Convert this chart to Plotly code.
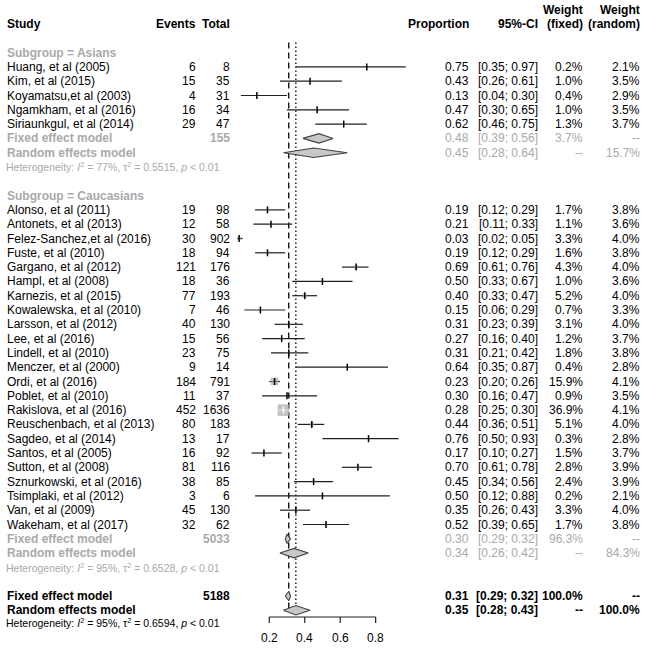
import math
import plotly.graph_objects as go

# ---------------- data ----------------
asian_study = ["Huang, et al (2005)", "Kim, et al (2015)", "Koyamatsu,et al (2003)",
               "Ngamkham, et al (2016)", "Siriaunkgul, et al (2014)"]
asian_events = [6, 15, 4, 16, 29]
asian_total = [8, 35, 31, 34, 47]
asian_prop = [0.75, 0.43, 0.13, 0.47, 0.62]
asian_lo = [0.35, 0.26, 0.04, 0.30, 0.46]
asian_hi = [0.97, 0.61, 0.30, 0.65, 0.75]
asian_wf = [0.2, 1.0, 0.4, 1.0, 1.3]
asian_wr = [2.1, 3.5, 2.9, 3.5, 3.7]

cauc_study = ["Alonso, et al (2011)", "Antonets, et al (2013)", "Felez-Sanchez,et al (2016)",
              "Fuste, et al (2010)", "Gargano, et al (2012)", "Hampl, et al (2008)",
              "Karnezis, et al (2015)", "Kowalewska, et al (2010)", "Larsson, et al (2012)",
              "Lee, et al (2016)", "Lindell, et al (2010)", "Menczer, et al (2000)",
              "Ordi, et al (2016)", "Poblet, et al (2010)", "Rakislova, et al (2016)",
              "Reuschenbach, et al (2013)", "Sagdeo, et al (2014)", "Santos, et al (2005)",
              "Sutton, et al (2008)", "Sznurkowski, et al (2016)", "Tsimplaki, et al (2012)",
              "Van, et al (2009)", "Wakeham, et al (2017)"]
cauc_events = [19, 12, 30, 18, 121, 18, 77, 7, 40, 15, 23, 9, 184, 11, 452, 80, 13, 16, 81, 38, 3, 45, 32]
cauc_total = [98, 58, 902, 94, 176, 36, 193, 46, 130, 56, 75, 14, 791, 37, 1636, 183, 17, 92, 116, 85, 6, 130, 62]
cauc_prop = [0.19, 0.21, 0.03, 0.19, 0.69, 0.50, 0.40, 0.15, 0.31, 0.27, 0.31, 0.64, 0.23, 0.30, 0.28,
             0.44, 0.76, 0.17, 0.70, 0.45, 0.50, 0.35, 0.52]
cauc_lo = [0.12, 0.11, 0.02, 0.12, 0.61, 0.33, 0.33, 0.06, 0.23, 0.16, 0.21, 0.35, 0.20, 0.16, 0.25,
           0.36, 0.50, 0.10, 0.61, 0.34, 0.12, 0.26, 0.39]
cauc_hi = [0.29, 0.33, 0.05, 0.29, 0.76, 0.67, 0.47, 0.29, 0.39, 0.40, 0.42, 0.87, 0.26, 0.47, 0.30,
           0.51, 0.93, 0.27, 0.78, 0.56, 0.88, 0.43, 0.65]
cauc_wf = [1.7, 1.1, 3.3, 1.6, 4.3, 1.0, 5.2, 0.7, 3.1, 1.2, 1.8, 0.4, 15.9, 0.9, 36.9, 5.1, 0.3, 1.5,
           2.8, 2.4, 0.2, 3.3, 1.7]
cauc_wr = [3.8, 3.6, 4.0, 3.8, 4.0, 3.6, 4.0, 3.3, 4.0, 3.7, 3.8, 2.8, 4.1, 3.5, 4.1, 4.0, 2.8, 3.7,
           3.9, 3.9, 2.1, 4.0, 3.8]

subgroup_names = ["Asians", "Caucasians"]
sub_total = [155, 5033]
sub_fixed = [0.48, 0.30]
sub_fixed_lo = [0.39, 0.29]
sub_fixed_hi = [0.56, 0.32]
sub_fixed_w = [3.7, 96.3]
sub_random = [0.45, 0.34]
sub_random_lo = [0.28, 0.26]
sub_random_hi = [0.64, 0.42]
sub_random_w = [15.7, 84.3]
sub_i2 = [77, 95]
sub_tau2 = [0.5515, 0.6528]

overall_total = 5188
overall_fixed = [0.31, 0.29, 0.32]
overall_random = [0.35, 0.28, 0.43]
overall_i2 = 95
overall_tau2 = 0.6594

axis_ticks = [0.2, 0.4, 0.6, 0.8]

# ---------------- geometry ----------------
W, H = 646, 649
ROW_PX = 14.3
ROW0_PX = 24.0
rmin = -ROW0_PX / ROW_PX
rmax = rmin + H / ROW_PX
X0_PX = 233.8
X_SCALE = 177.3
xmin = -X0_PX / X_SCALE
xmax = (W - X0_PX) / X_SCALE

FONT = "Liberation Sans, Arial, sans-serif"
GRAY = "#a9a9a9"
BLACK = "#000000"

COL_STUDY = 5
COL_EVENTS = 197.5
COL_TOTAL = 231.5
COL_PROP = 471
COL_CI = 539.5
COL_WF = 584.5
COL_WR = 641.5

annotations = []


def txt(x, y, s, anchor="right", color=BLACK, bold=False, size=12):
    if bold:
        s = "<b>" + s + "</b>"
    annotations.append(dict(x=x, y=y, xref="x2", yref="y", text=s, showarrow=False,
                            xanchor=anchor, yanchor="middle",
                            font=dict(family=FONT, size=size, color=color)))


def ci_str(lo, hi):
    return "[%.2f; %.2f]" % (lo, hi)


# header
txt(COL_STUDY, 0, "Study", "left", bold=True)
txt(COL_EVENTS, 0, "Events", bold=True)
txt(COL_TOTAL, 0, "Total", bold=True)
txt(COL_PROP, 0, "Proportion", bold=True)
txt(COL_CI, 0, "95%-CI", bold=True)
txt(COL_WF, -0.98, "Weight", bold=True)
txt(COL_WF, 0, "(fixed)", bold=True)
txt(COL_WR, -0.98, "Weight", bold=True)
txt(COL_WR, 0, "(random)", bold=True)

# forest marks collections
ci_x, ci_y = [], []
sq_x, sq_y, sq_s = [], [], []
tick_x, tick_y, tick_c = [], [], []
inside_x, inside_y = [], []
diamonds = []  # (est, lo, hi, row)


def het_text(i2, tau2):
    return ("Heterogeneity: <i>I</i><sup>2</sup> = %d%%, τ<sup>2</sup> = %.4f, <i>p</i> &lt; 0.01"
            % (i2, tau2))


groups = [
    (asian_study, asian_events, asian_total, asian_prop, asian_lo, asian_hi, asian_wf, asian_wr),
    (cauc_study, cauc_events, cauc_total, cauc_prop, cauc_lo, cauc_hi, cauc_wf, cauc_wr),
]

row = 2
for g, (st, ev, tot, pr, lo, hi, wf, wr) in enumerate(groups):
    txt(COL_STUDY, row, "Subgroup = " + subgroup_names[g], "left", color=GRAY, bold=True)
    row += 1
    for i in range(len(st)):
        txt(COL_STUDY, row, st[i], "left")
        txt(COL_EVENTS, row, str(ev[i]))
        txt(COL_TOTAL, row, str(tot[i]))
        txt(COL_PROP, row, "%.2f" % pr[i])
        txt(COL_CI, row, ci_str(lo[i], hi[i]))
        txt(COL_WF, row, "%.1f%%" % wf[i])
        txt(COL_WR, row, "%.1f%%" % wr[i])
        size_px = 1.9 * math.sqrt(wf[i])
        half = size_px / 2 / X_SCALE
        inside = (pr[i] - lo[i] <= half) and (hi[i] - pr[i] <= half)
        ci_x += [lo[i], hi[i], None]
        ci_y += [row, row, None]
        sq_x.append(pr[i]); sq_y.append(row); sq_s.append(size_px)
        tick_x.append(pr[i]); tick_y.append(row)
        tick_c.append("white" if inside else BLACK)
        if inside:
            inside_x += [lo[i], hi[i], None]
            inside_y += [row, row, None]
        row += 1
    # subgroup fixed
    txt(COL_STUDY, row, "Fixed effect model", "left", color=GRAY, bold=True)
    txt(COL_TOTAL, row, str(sub_total[g]), color=GRAY, bold=True)
    txt(COL_PROP, row, "%.2f" % sub_fixed[g], color=GRAY)
    txt(COL_CI, row, ci_str(sub_fixed_lo[g], sub_fixed_hi[g]), color=GRAY)
    txt(COL_WF, row, "%.1f%%" % sub_fixed_w[g], color=GRAY)
    txt(COL_WR, row, "--", color=GRAY)
    diamonds.append((sub_fixed[g], sub_fixed_lo[g], sub_fixed_hi[g], row))
    row += 1
    txt(COL_STUDY, row, "Random effects model", "left", color=GRAY, bold=True)
    txt(COL_PROP, row, "%.2f" % sub_random[g], color=GRAY)
    txt(COL_CI, row, ci_str(sub_random_lo[g], sub_random_hi[g]), color=GRAY)
    txt(COL_WF, row, "--", color=GRAY)
    txt(COL_WR, row, "%.1f%%" % sub_random_w[g], color=GRAY)
    diamonds.append((sub_random[g], sub_random_lo[g], sub_random_hi[g], row))
    row += 1
    txt(COL_STUDY - 1, row - 0.02, het_text(sub_i2[g], sub_tau2[g]), "left", color=GRAY, size=10.5)
    row += 2

# overall
txt(COL_STUDY, row, "Fixed effect model", "left", bold=True)
txt(COL_TOTAL, row, str(overall_total), bold=True)
txt(COL_PROP, row, "%.2f" % overall_fixed[0], bold=True)
txt(COL_CI, row, ci_str(overall_fixed[1], overall_fixed[2]), bold=True)
txt(COL_WF, row, "100.0%", bold=True)
txt(COL_WR, row, "--", bold=True)
diamonds.append((overall_fixed[0], overall_fixed[1], overall_fixed[2], row))
row_fixed_overall = row
row += 1
txt(COL_STUDY, row, "Random effects model", "left", bold=True)
txt(COL_PROP, row, "%.2f" % overall_random[0], bold=True)
txt(COL_CI, row, ci_str(overall_random[1], overall_random[2]), bold=True)
txt(COL_WF, row, "--", bold=True)
txt(COL_WR, row, "100.0%", bold=True)
diamonds.append((overall_random[0], overall_random[1], overall_random[2], row))
row_random_overall = row
txt(COL_STUDY - 1, row + 0.85, het_text(overall_i2, overall_tau2), "left", size=10.5)

# ---------------- figure ----------------
fig = go.Figure()

# reference lines
line_top, line_bot = 1.3, row_random_overall + 0.15
fig.add_trace(go.Scatter(x=[overall_fixed[0]] * 2, y=[line_top, line_bot], mode="lines",
                         line=dict(color=BLACK, width=1.3, dash="6px,4px"), hoverinfo="skip"))
fig.add_trace(go.Scatter(x=[overall_random[0]] * 2, y=[line_top, line_bot], mode="lines",
                         line=dict(color=BLACK, width=1.3, dash="1.5px,2.5px"), hoverinfo="skip"))

# CI lines
fig.add_trace(go.Scatter(x=ci_x, y=ci_y, mode="lines", line=dict(color="#202020", width=1.2),
                         hoverinfo="skip"))
# squares
fig.add_trace(go.Scatter(x=sq_x, y=sq_y, mode="markers",
                         marker=dict(symbol="square", size=sq_s, color="#a8a8a8", line=dict(width=0)),
                         hoverinfo="skip"))
# white inside lines
if inside_x:
    fig.add_trace(go.Scatter(x=inside_x, y=inside_y, mode="lines", line=dict(color="white", width=1.2),
                             hoverinfo="skip"))
# centre ticks
fig.add_trace(go.Scatter(x=tick_x, y=tick_y, mode="markers",
                         marker=dict(symbol="line-ns", size=5, color=tick_c,
                                     line=dict(width=1.5, color=tick_c)),
                         hoverinfo="skip"))

# diamonds
DH = 0.33
for est, lo, hi, r in diamonds:
    fig.add_trace(go.Scatter(x=[lo, est, hi, est, lo], y=[r, r - DH, r, r + DH, r], mode="lines",
                             fill="toself", fillcolor="#c8c8c8",
                             line=dict(color="#404040", width=1.1), hoverinfo="skip"))

# axis
axis_row = 41.47
tick_len = 0.42
fig.add_trace(go.Scatter(x=[axis_ticks[0], axis_ticks[-1]], y=[axis_row, axis_row], mode="lines",
                         line=dict(color="#202020", width=1.2), hoverinfo="skip"))
tx, ty = [], []
for t in axis_ticks:
    tx += [t, t, None]
    ty += [axis_row, axis_row + tick_len, None]
    annotations.append(dict(x=t, y=axis_row + 1.48, xref="x", yref="y", text="%.1f" % t,
                            showarrow=False, xanchor="center", yanchor="middle",
                            font=dict(family=FONT, size=12, color=BLACK)))
fig.add_trace(go.Scatter(x=tx, y=ty, mode="lines", line=dict(color="#202020", width=1.2),
                         hoverinfo="skip"))

fig.update_layout(
    width=W, height=H, autosize=False,
    margin=dict(l=0, r=0, t=0, b=0, pad=0),
    paper_bgcolor="white", plot_bgcolor="white",
    showlegend=False,
    xaxis=dict(range=[xmin, xmax], visible=False, fixedrange=True),
    xaxis2=dict(range=[0, W], visible=False, overlaying="x", fixedrange=True),
    yaxis=dict(range=[rmax, rmin], visible=False, fixedrange=True),
    annotations=annotations,
)

fig.write_html("out.html", config={"displayModeBar": False},
               post_script="document.body.style.margin='0';document.body.style.overflow='hidden';")
